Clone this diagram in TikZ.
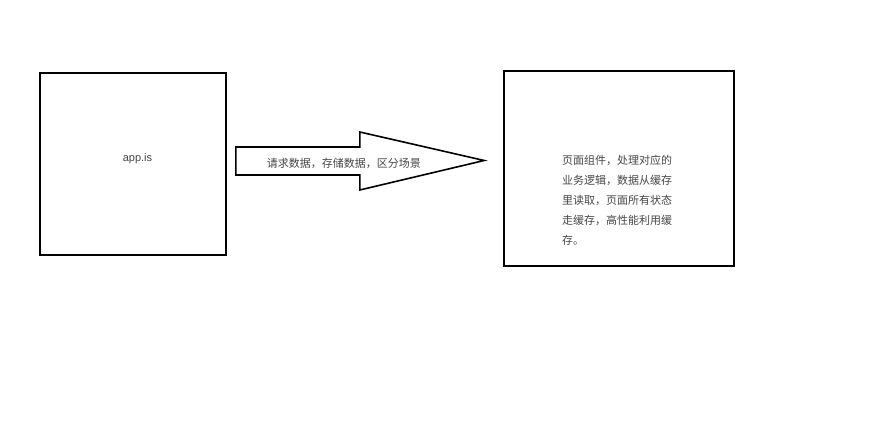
\documentclass[tikz,border=0pt]{standalone}
\usepackage{fontspec}
\usepackage{xcolor}
\usetikzlibrary{positioning,calc}
\newfontfamily\cjk{Noto Sans CJK SC}
\setmainfont{Liberation Sans}
\definecolor{inkgray}{RGB}{70,70,70}

\begin{document}
\begin{tikzpicture}[
    x=1pt, y=-1pt,
    box/.style={rectangle, draw=black, line width=1.6pt, inner sep=0pt},
    lbl/.style={text=inkgray, font=\cjk\fontsize{11}{20}\selectfont, inner sep=0pt, align=left},
    bigarrow/.style={draw=black, line width=1.6pt, fill=white, line join=miter}
]
    \useasboundingbox (0,0) rectangle (886,435);

    \node[box, minimum width=186pt, minimum height=182pt] (app) at (133,164) {};
    \node[lbl, font=\fontsize{11}{13}\selectfont] (appname) at (137.5,159) {app.is};

    \node[box, minimum width=230pt, minimum height=195pt] (page) at (619,168.5) {};
    \node[lbl, text width=112pt, anchor=north west] (pagetext) at (562,155)
        {页面组件，处理对应的\\业务逻辑，数据从缓存\\里读取，页面所有状态\\走缓存，高性能利用缓\\存。};

    % arrow between the two boxes
    \coordinate (tail) at ($(app.east)+(9,-3)$);
    \coordinate (tip) at ($(page.west)+(-19,-8)$);
    \draw[bigarrow] ($(tail)+(0,-14)$) -- ++(124,0) -- ++(0,-15) -- (tip)
        -- ($(tail)+(124,29)$) -- ++(0,-15) -- ($(tail)+(0,14)$) -- cycle;
    \node[lbl] (flow) at ($(tail)+(108,2.5)$) {请求数据，存储数据，区分场景};
\end{tikzpicture}
\end{document}
